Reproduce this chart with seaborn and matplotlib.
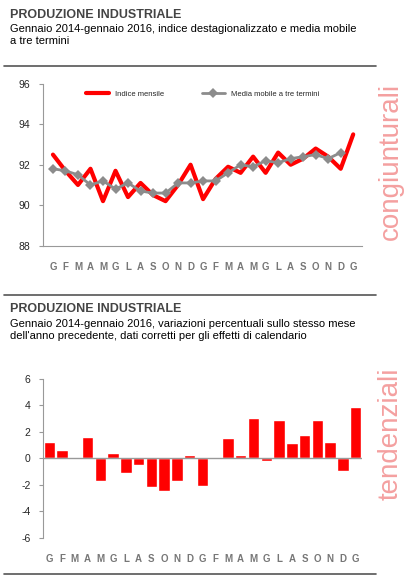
import numpy as np
import pandas as pd
import seaborn as sns
import matplotlib.pyplot as plt
from matplotlib.lines import Line2D

months = list("GFMAMGLASONDGFMAMGLASONDG")
indice = [92.5, 91.7, 91.0, 91.8, 90.2, 91.7, 90.4, 91.1, 90.5, 90.2, 91.0, 92.0, 90.3,
          91.3, 91.9, 91.6, 92.4, 91.6, 92.6, 92.0, 92.3, 92.8, 92.4, 91.8, 93.5]
media = [91.8, 91.7, 91.5, 91.0, 91.2, 90.8, 91.1, 90.7, 90.6, 90.6, 91.1, 91.1, 91.2,
         91.2, 91.6, 92.0, 91.9, 92.2, 92.1, 92.3, 92.4, 92.5, 92.3, 92.6, np.nan]
tendenz = [1.2, 0.6, -0.1, 1.6, -1.7, 0.35, -1.1, -0.5, -2.2, -2.5, -1.7, 0.25, -2.1,
           -0.1, 1.5, 0.25, 3.0, -0.2, 2.85, 1.1, 1.75, 2.9, 1.2, -1.0, 3.85]

sns.set_style("white")
plt.rcParams['font.family'] = ['Liberation Sans', 'DejaVu Sans']
plt.rcParams['axes.unicode_minus'] = False
df = pd.DataFrame({"x": range(len(months)), "indice": indice, "media": media, "v": tendenz})

fig = plt.figure(figsize=(4.09, 5.78), dpi=100)
grey = "#999999"

def header(y, title, sub):
    fig.text(0.025, y, title, fontsize=9, fontweight="bold", color="#444444", va="top")
    fig.text(0.025, y - 0.027, sub, fontsize=8, color="black", va="top", linespacing=1.2)

header(0.985, "PRODUZIONE INDUSTRIALE",
       "Gennaio 2014-gennaio 2016, indice destagionalizzato e media mobile\na tre termini")
fig.add_artist(Line2D([0.01, 0.92], [0.885, 0.885], color="#555555", lw=1.2))
fig.add_artist(Line2D([0.01, 0.92], [0.49, 0.49], color="#555555", lw=1.2))
header(0.475, "PRODUZIONE INDUSTRIALE",
       "Gennaio 2014-gennaio 2016, variazioni percentuali sullo stesso mese\ndell'anno precedente, dati corretti per gli effetti di calendario")
fig.add_artist(Line2D([0.01, 0.92], [0.0075, 0.0075], color="#555555", lw=1.2))

fig.text(0.955, 0.72, "congiunturali", rotation=90, fontsize=20, color="#f4a0a0", ha="center", va="center")
fig.text(0.955, 0.25, "tendenziali", rotation=90, fontsize=20, color="#f4a0a0", ha="center", va="center")

# line chart
ax1 = fig.add_axes([0.105, 0.575, 0.78, 0.28])
sns.lineplot(data=df, x="x", y="indice", color="#ff0000", lw=3, ax=ax1, label="Indice mensile")
sns.lineplot(data=df, x="x", y="media", color="#8c8c8c", lw=2, marker="D", markersize=5,
             markeredgewidth=0, ax=ax1, label="Media mobile a tre termini")
ax1.set_ylim(88, 96)
ax1.set_yticks([88, 90, 92, 94, 96])
ax1.set_xlim(-0.8, len(months) - 0.3)
ax1.set_xticks(range(len(months)))
ax1.set_xticklabels(months)
ax1.legend(loc="upper center", ncol=2, frameon=False, fontsize=5.5, handlelength=3, columnspacing=5)

# bar chart
ax2 = fig.add_axes([0.105, 0.07, 0.78, 0.275])
sns.barplot(data=df, x="x", y="v", color="#ff0000", saturation=1, width=0.9, ax=ax2)
ax2.axhline(0, color="#999999", lw=1)
ax2.set_ylim(-6, 6)
ax2.set_yticks([-6, -4, -2, 0, 2, 4, 6])
ax2.set_xticks(range(len(months)))
ax2.set_xticklabels(months)

for ax in (ax1, ax2):
    ax.set_xlabel("")
    ax.set_ylabel("")
    for s in ("top", "right"):
        ax.spines[s].set_visible(False)
    ax.spines["left"].set_color(grey)
    ax.spines["bottom"].set_color(grey)
    ax.tick_params(axis="y", labelsize=7.5, left=True, length=3, color=grey, pad=6)
    ax.tick_params(axis="x", labelsize=7, bottom=False, colors="#777777", pad=8)
    for t in ax.get_xticklabels():
        t.set_fontweight("bold")
ax2.spines["bottom"].set_visible(False)

fig.savefig("out.png", dpi=100)
